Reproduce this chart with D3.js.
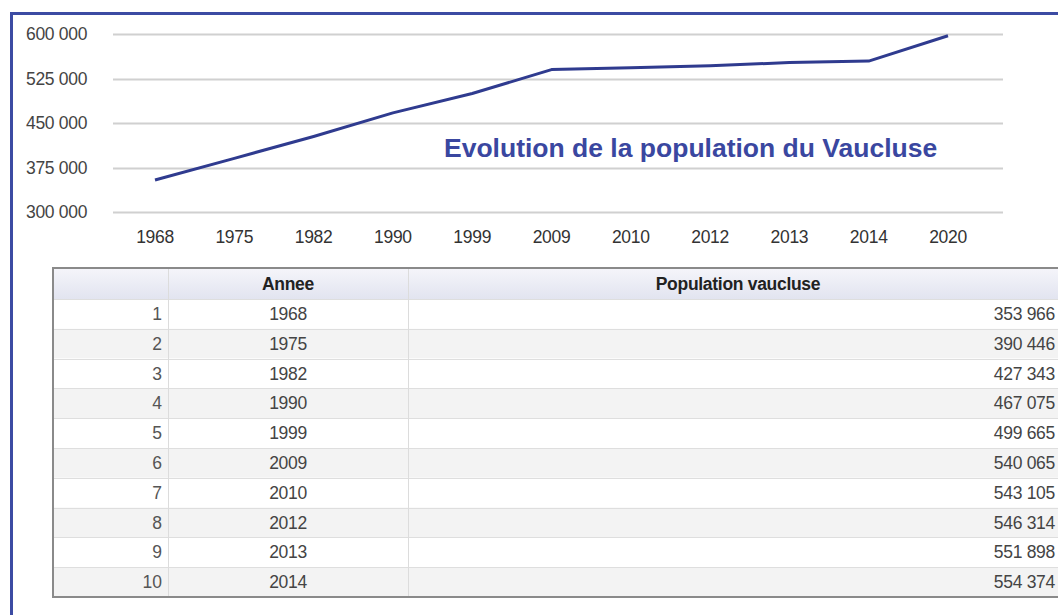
<!DOCTYPE html>
<html>
<head>
<meta charset="utf-8">
<script src="https://cdn.jsdelivr.net/npm/d3@7"></script>
<style>
  html, body { margin: 0; padding: 0; background: #fff; }
  svg { display: block; font-family: "Liberation Sans", Arial, sans-serif; }
</style>
</head>
<body>
<div id="chart"></div>
<script>
// chart series: year labels and population (2020)
const years = ["1968", "1975", "1982", "1990", "1999", "2009", "2010", "2012", "2013", "2014", "2020"];
const population = [353966, 390446, 427343, 467075, 499665, 540065, 543105, 546314, 551898, 554374, 597000];
const yTicks = [300000, 375000, 450000, 525000, 600000];

// table rows
const tableIndex = [1, 2, 3, 4, 5, 6, 7, 8, 9, 10];
const tableYears = ["1968", "1975", "1982", "1990", "1999", "2009", "2010", "2012", "2013", "2014"];
const tableValues = [353966, 390446, 427343, 467075, 499665, 540065, 543105, 546314, 551898, 554374];
const tableHeaders = ["", "Annee", "Population vaucluse"];

const W = 1058, H = 615;
const FS = 17.5;
const fmt = (v) => d3.format(",")(v).replace(/,/g, " ");

const svg = d3.select("#chart").append("svg")
  .attr("width", W).attr("height", H);

// blue frame around everything
svg.append("path")
  .attr("d", `M11.5,${H + 5} V13.5 H${W + 5}`)
  .attr("fill", "none")
  .attr("stroke", "#3c4ba3")
  .attr("stroke-width", 3);

// --- line chart ---
const x = d3.scalePoint().domain(years).range([155, 948]);
const y = d3.scaleLinear().domain([300000, 600000]).range([212, 34]);

svg.append("g")
  .selectAll("line")
  .data(yTicks)
  .join("line")
  .attr("x1", 113).attr("x2", 1003)
  .attr("y1", (d) => Math.round(y(d)) + 0.5)
  .attr("y2", (d) => Math.round(y(d)) + 0.5)
  .attr("stroke", "#d0d0d0")
  .attr("stroke-width", 2);

svg.append("g")
  .selectAll("text")
  .data(yTicks)
  .join("text")
  .attr("x", 26)
  .attr("y", (d) => y(d) + 6)
  .attr("font-size", FS)
  .attr("letter-spacing", -0.3)
  .attr("fill", "#444")
  .text(fmt);

svg.append("g")
  .selectAll("text")
  .data(years)
  .join("text")
  .attr("x", (d) => x(d))
  .attr("y", 243)
  .attr("text-anchor", "middle")
  .attr("font-size", FS)
  .attr("letter-spacing", -0.3)
  .attr("fill", "#333")
  .text((d) => d);

const line = d3.line()
  .x((d, i) => x(years[i]))
  .y((d) => y(d));

svg.append("path")
  .datum(population)
  .attr("d", line)
  .attr("fill", "none")
  .attr("stroke", "#2f3b8f")
  .attr("stroke-width", 3)
  .attr("stroke-linejoin", "round");

svg.append("text")
  .attr("x", 444)
  .attr("y", 157)
  .attr("font-size", 26.5)
  .attr("font-weight", "bold")
  .attr("fill", "#3a47a0")
  .text("Evolution de la population du Vaucluse");

// --- table ---
const tLeft = 52, tRight = W + 10;
const colEdges = [tLeft, 168, 408, tRight];
const headTop = 268, headBottom = 299, tBottom = 597;
const row = d3.scaleBand().domain(tableIndex).range([headBottom, tBottom]);

const defs = svg.append("defs");
const grad = defs.append("linearGradient")
  .attr("id", "headGrad").attr("x1", 0).attr("x2", 0).attr("y1", 0).attr("y2", 1);
grad.append("stop").attr("offset", 0).attr("stop-color", "#f5f5fa");
grad.append("stop").attr("offset", 1).attr("stop-color", "#e2e4f0");

const table = svg.append("g");

table.append("rect")
  .attr("x", tLeft).attr("y", headTop)
  .attr("width", tRight - tLeft).attr("height", headBottom - headTop)
  .attr("fill", "url(#headGrad)");

table.selectAll(".row-bg")
  .data(tableIndex)
  .join("rect")
  .attr("class", "row-bg")
  .attr("x", tLeft).attr("y", (d) => row(d))
  .attr("width", tRight - tLeft).attr("height", row.bandwidth())
  .attr("fill", (d) => (d % 2 === 0 ? "#f3f3f3" : "#ffffff"));

// horizontal row separators
table.selectAll(".row-sep")
  .data(tableIndex)
  .join("line")
  .attr("class", "row-sep")
  .attr("x1", tLeft).attr("x2", tRight)
  .attr("y1", (d) => Math.round(row(d)) + 0.5)
  .attr("y2", (d) => Math.round(row(d)) + 0.5)
  .attr("stroke", "#dedede");

// vertical column separators
table.selectAll(".col-sep")
  .data(colEdges.slice(1, 3))
  .join("line")
  .attr("class", "col-sep")
  .attr("x1", (d) => d + 0.5).attr("x2", (d) => d + 0.5)
  .attr("y1", headTop).attr("y2", tBottom)
  .attr("stroke", "#dcdcdc");

// outer table border
table.append("path")
  .attr("d", `M${tRight},${headTop} H${tLeft + 1} V${tBottom} H${tRight}`)
  .attr("fill", "none")
  .attr("stroke", "#8a8a8a")
  .attr("stroke-width", 2);

table.selectAll(".head")
  .data(tableHeaders)
  .join("text")
  .attr("class", "head")
  .attr("x", (d, i) => i === 2 ? 738 : (colEdges[i] + colEdges[i + 1]) / 2)
  .attr("y", headBottom - 9)
  .attr("text-anchor", "middle")
  .attr("font-size", FS)
  .attr("font-weight", "bold")
  .attr("letter-spacing", -0.3)
  .attr("fill", "#222")
  .text((d) => d);

const cy = (d) => row(d) + row.bandwidth() / 2 + 6;

table.selectAll(".idx")
  .data(tableIndex)
  .join("text")
  .attr("class", "idx")
  .attr("x", 162).attr("y", cy)
  .attr("text-anchor", "end")
  .attr("font-size", FS).attr("fill", "#555")
  .text((d) => d);

table.selectAll(".yr")
  .data(tableIndex)
  .join("text")
  .attr("class", "yr")
  .attr("x", 288).attr("y", cy)
  .attr("text-anchor", "middle")
  .attr("font-size", FS).attr("letter-spacing", -0.3).attr("fill", "#444")
  .text((d, i) => tableYears[i]);

table.selectAll(".val")
  .data(tableIndex)
  .join("text")
  .attr("class", "val")
  .attr("x", 1055).attr("y", cy)
  .attr("text-anchor", "end")
  .attr("font-size", FS).attr("letter-spacing", -0.3).attr("fill", "#444")
  .text((d, i) => fmt(tableValues[i]));
</script>
</body>
</html>
